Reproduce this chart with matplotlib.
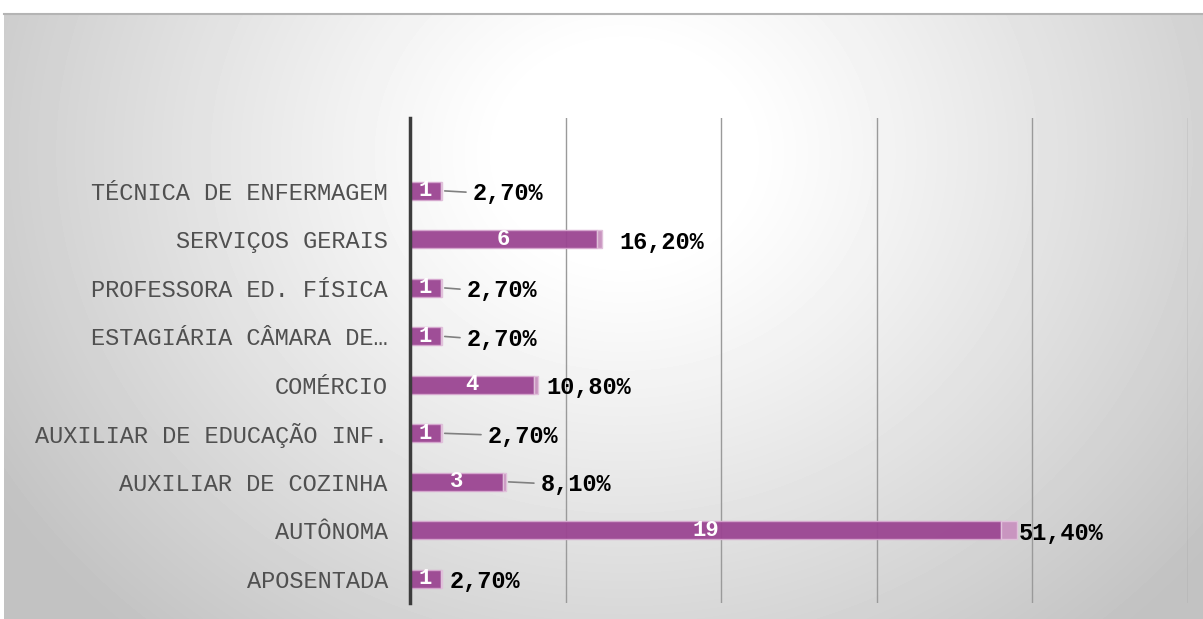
import numpy as np
import matplotlib.pyplot as plt

# categories bottom-to-top as they appear on the chart
categories = ['APOSENTADA', 'AUTÔNOMA', 'AUXILIAR DE COZINHA',
              'AUXILIAR DE EDUCAÇÃO INF.', 'COMÉRCIO', 'ESTAGIÁRIA CÂMARA DE…',
              'PROFESSORA ED. FÍSICA', 'SERVIÇOS GERAIS', 'TÉCNICA DE ENFERMAGEM']
counts = [1, 19, 3, 1, 4, 1, 1, 6, 1]
percents = [2.70, 51.40, 8.10, 2.70, 10.80, 2.70, 2.70, 16.20, 2.70]
pct_labels = ['2,70%', '51,40%', '8,10%', '2,70%', '10,80%', '2,70%',
              '2,70%', '16,20%', '2,70%']
xticks = [0, 5, 10, 15, 20, 25]

# label placement (pixels right of bar end), and whether a leader line is drawn
label_dx = [8, 1, 35, 46, 9, 25, 25, 18, 31]
leader = [False, False, True, True, False, True, True, False, True]

W, H = 1203, 619
fig = plt.figure(figsize=(W / 100, H / 100), dpi=100)
fig.patch.set_facecolor('white')

# radial gradient background panel
bg = fig.add_axes([4 / W, 0, 1 - 4 / W, (H - 13) / H])
yy, xx = np.mgrid[0:606, 0:1199]
r = np.hypot(xx - 620, (yy - 140) * 1.15)
shade = 1 - 0.24 * np.clip((r - 120) / 620, 0, 1) ** 1.1
bg.imshow(shade, cmap='gray', vmin=0, vmax=1, aspect='auto',
          extent=[0, 1, 0, 1], origin='upper')
bg.set_axis_off()
fig.add_artist(plt.Line2D([4 / W, 1], [1 - 13.5 / H] * 2, color='#b4b4b4',
                          lw=1.5, transform=fig.transFigure))

ax = fig.add_axes([410 / W, 16 / H, 778 / W, 485 / H])
ax.patch.set_alpha(0)
pct_frac = [p / 100 for p in percents]
y = np.arange(len(categories))

ax.set_xlim(0, 25)
ax.set_ylim(-0.5, 9.5)
for xv in xticks[1:]:
    ax.axvline(xv, color='#9a9a9a', lw=1, zorder=1)

ax.barh(y, counts, height=0.37, color='#9b4592', alpha=0.95,
        edgecolor='#d6a8cf', lw=1, zorder=2)
ax.barh(y, pct_frac, left=counts, height=0.37, color='#c995c0',
        edgecolor='#e0c0da', lw=1, zorder=2)

mono = 'Liberation Mono'
for i in range(len(categories)):
    ax.text(counts[i] / 2, y[i], str(counts[i]), ha='center', va='center',
            color='white', fontsize=16, fontweight='bold', family=mono,
            zorder=3)
    end = counts[i] + pct_frac[i]
    ax.annotate(pct_labels[i], xy=(end, y[i]),
                xytext=(label_dx[i] * 0.72, -2), textcoords='offset points',
                ha='left', va='center', fontsize=17, fontweight='bold',
                family=mono, color='black', zorder=3)
    if leader[i]:
        ax.annotate('', xy=(end, y[i]), xytext=(label_dx[i] * 0.72 - 5, -1),
                    textcoords='offset points',
                    arrowprops=dict(arrowstyle='-', color='#808080', lw=1.2,
                                    shrinkA=0, shrinkB=2))

ax.set_yticks(y)
ax.set_yticklabels(categories, family=mono, fontsize=17, color='#505050')
ax.set_xticks([])
ax.tick_params(axis='y', length=0, pad=16)
for s in ['top', 'right', 'bottom']:
    ax.spines[s].set_visible(False)
ax.spines['left'].set_color('#3c3c3c')
ax.spines['left'].set_linewidth(2.5)
ax.spines['left'].set_zorder(4)

fig.savefig('out.png', dpi=100)
